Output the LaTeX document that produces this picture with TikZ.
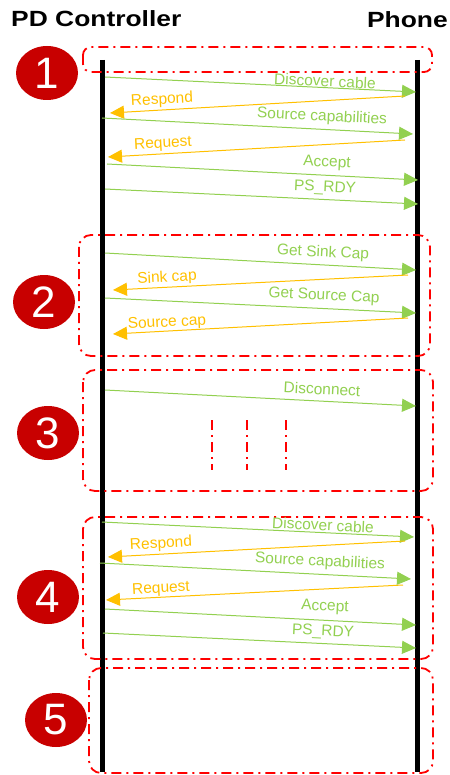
\documentclass[tikz,border=0pt]{standalone}
\usepackage{fontspec}
\setmainfont{Liberation Sans}
\usetikzlibrary{arrows.meta,shapes.geometric}
\definecolor{msggreen}{HTML}{92D050}
\definecolor{msgorange}{HTML}{FFC000}
\definecolor{boxred}{HTML}{FF0000}
\definecolor{badgered}{HTML}{C80000}
\begin{document}
\begin{tikzpicture}[x=1pt,y=-1pt,
  lifeline/.style={line width=5pt,black},
  fwd/.style={msggreen,line width=1pt,-{Triangle[length=14pt,width=13pt]}},
  bwd/.style={msgorange,line width=1pt,-{Triangle[length=14pt,width=13pt]}},
  fwdlbl/.style={text=msggreen,font=\fontsize{15.5}{18}\selectfont,rotate=-2.8,inner sep=0pt},
  bwdlbl/.style={text=msgorange,font=\fontsize{15.5}{18}\selectfont,rotate=3,inner sep=0pt},
  grp/.style={boxred,line width=1.8pt,dash pattern=on 10pt off 5pt on 2pt off 5pt,rounded corners=#1},
  grp/.default=12pt,
  badge/.style={ellipse,fill=badgered,minimum width=62pt,minimum height=54pt,inner sep=0pt,text=white,font=\fontsize{44}{46}\selectfont},
  title/.style={font=\bfseries\fontsize{22}{24}\selectfont,inner sep=0pt,xscale=1.2,transform shape}
]
\useasboundingbox (0,0) rectangle (449,775);

% titles
\node[title,anchor=west] (tpd) at (11,19) {PD Controller};
\node[title,anchor=east] (tph) at (448,20) {Phone};

% lifelines
\coordinate (Ltop) at (102,60);
\coordinate (Lbot) at (102,772);
\coordinate (Rtop) at (417,60);
\coordinate (Rbot) at (417,772);
\draw[lifeline] (Ltop) -- (Lbot);
\draw[lifeline] (Rtop) -- (Rbot);

% group boxes
\draw[grp=8pt] (83,47) rectangle (432,72);
\draw[grp] (79,235) rectangle (430,356);
\draw[grp] (83,370) rectangle (433,491);
\draw[grp] (83,517) rectangle (433,659);
\draw[grp] (89,668) rectangle (433,773);

% badges
\node[badge] (b1) at (47,73) {1};
\node[badge] (b2) at (44,302) {2};
\node[badge] (b3) at (48,433) {3};
\node[badge] (b4) at (48,597) {4};
\node[badge] (b5) at (56,720) {5};

% section 1
\coordinate (m1a) at (105,77);  \coordinate (m1b) at (416,92);
\coordinate (m2a) at (405,96);  \coordinate (m2b) at (110,113);
\coordinate (m3a) at (102,118); \coordinate (m3b) at (413,134);
\coordinate (m4a) at (405,140); \coordinate (m4b) at (108,157);
\coordinate (m5a) at (107,164); \coordinate (m5b) at (418,180);
\coordinate (m6a) at (105,189); \coordinate (m6b) at (418,204);
\draw[fwd] (m1a) -- (m1b);
\draw[bwd] (m2a) -- (m2b);
\draw[fwd] (m3a) -- (m3b);
\draw[bwd] (m4a) -- (m4b);
\draw[fwd] (m5a) -- (m5b);
\draw[fwd] (m6a) -- (m6b);
\node[fwdlbl] (l1) at (325,81) {Discover cable};
\node[bwdlbl] (l2) at (162,100) {Respond};
\node[fwdlbl] (l3) at (322,117) {Source capabilities};
\node[bwdlbl] (l4) at (163,144) {Request};
\node[fwdlbl] (l5) at (327,163) {Accept};
\node[fwdlbl] (l6) at (325,188) {PS\_RDY};

% section 2
\coordinate (n1a) at (105,253); \coordinate (n1b) at (416,270);
\coordinate (n2a) at (408,275); \coordinate (n2b) at (113,290);
\coordinate (n3a) at (105,298); \coordinate (n3b) at (416,313);
\coordinate (n4a) at (408,318); \coordinate (n4b) at (113,334);
\draw[fwd] (n1a) -- (n1b);
\draw[bwd] (n2a) -- (n2b);
\draw[fwd] (n3a) -- (n3b);
\draw[bwd] (n4a) -- (n4b);
\node[fwdlbl] (k1) at (323,253) {Get Sink Cap};
\node[bwdlbl] (k2) at (167,278) {Sink cap};
\node[fwdlbl] (k3) at (324,296) {Get Source Cap};
\node[bwdlbl] (k4) at (167,323) {Source cap};

% section 3
\coordinate (d1a) at (105,390); \coordinate (d1b) at (416,406);
\draw[fwd] (d1a) -- (d1b);
\node[fwdlbl] (j1) at (322,389) {Disconnect};
\coordinate (v1a) at (212,420); \coordinate (v1b) at (212,470);
\coordinate (v2a) at (247,420); \coordinate (v2b) at (247,470);
\coordinate (v3a) at (286,420); \coordinate (v3b) at (286,470);
\draw[grp=0pt] (v1a) -- (v1b);
\draw[grp=0pt] (v2a) -- (v2b);
\draw[grp=0pt] (v3a) -- (v3b);

% section 4
\coordinate (p1a) at (102,522); \coordinate (p1b) at (414,537);
\coordinate (p2a) at (405,541); \coordinate (p2b) at (108,557);
\coordinate (p3a) at (100,563); \coordinate (p3b) at (411,579);
\coordinate (p4a) at (403,585); \coordinate (p4b) at (106,600);
\coordinate (p5a) at (105,609); \coordinate (p5b) at (416,625);
\coordinate (p6a) at (103,633); \coordinate (p6b) at (416,648);
\draw[fwd] (p1a) -- (p1b);
\draw[bwd] (p2a) -- (p2b);
\draw[fwd] (p3a) -- (p3b);
\draw[bwd] (p4a) -- (p4b);
\draw[fwd] (p5a) -- (p5b);
\draw[fwd] (p6a) -- (p6b);
\node[fwdlbl] (q1) at (323,525) {Discover cable};
\node[bwdlbl] (q2) at (161,544) {Respond};
\node[fwdlbl] (q3) at (320,562) {Source capabilities};
\node[bwdlbl] (q4) at (161,589) {Request};
\node[fwdlbl] (q5) at (325,607) {Accept};
\node[fwdlbl] (q6) at (323,632) {PS\_RDY};
\end{tikzpicture}
\end{document}
